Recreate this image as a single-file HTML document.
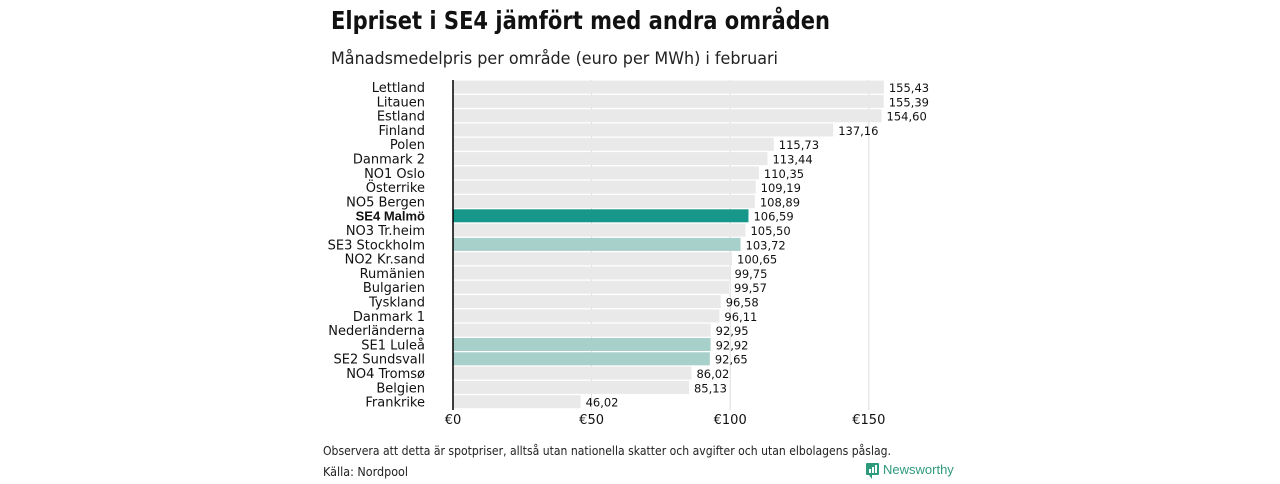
<!DOCTYPE html>
<html><head><meta charset="utf-8"><style>
body{margin:0;width:1280px;height:480px;background:#fff;font-family:"DejaVu Sans","Liberation Sans",sans-serif;overflow:hidden}
</style></head><body>
<svg width="1280" height="480">
<text x="331" y="29" font-size="25" font-weight="bold" fill="#111" textLength="499" lengthAdjust="spacingAndGlyphs">Elpriset i SE4 jämfört med andra områden</text>
<text x="331" y="64" font-size="17" fill="#222" textLength="447" lengthAdjust="spacingAndGlyphs">Månadsmedelpris per område (euro per MWh) i februari</text>
<g id="grid"></g><g id="bars"></g><g id="labels"></g>
<line x1="453" x2="453" y1="80" y2="410" stroke="#000" stroke-width="1.5"/>
<text x="323" y="455" font-size="12" fill="#222" textLength="568" lengthAdjust="spacingAndGlyphs">Observera att detta är spotpriser, alltså utan nationella skatter och avgifter och utan elbolagens påslag.</text>
<text x="323" y="476" font-size="12" fill="#222" textLength="85" lengthAdjust="spacingAndGlyphs">Källa: Nordpool</text>
<g>
<rect x="866" y="463" width="13" height="12" rx="1" fill="#2e9a7c"/>
<path d="M869 475 L872 479 L872 475Z" fill="#2e9a7c"/>
<rect x="869" y="469" width="2" height="4" fill="#fff"/><rect x="872" y="467" width="2" height="6" fill="#fff"/><rect x="875" y="465" width="2" height="8" fill="#fff"/>
<text x="883" y="474" font-size="13" fill="#2e9a7c" font-family="Liberation Sans,sans-serif">Newsworthy</text>
</g>
</svg>
<script>
const categories=["Lettland","Litauen","Estland","Finland","Polen","Danmark  2","NO1 Oslo","Österrike","NO5 Bergen","SE4 Malmö","NO3 Tr.heim","SE3  Stockholm","NO2 Kr.sand","Rumänien","Bulgarien","Tyskland","Danmark  1","Nederländerna","SE1  Luleå","SE2  Sundsvall","NO4 Tromsø","Belgien","Frankrike"];
const values=[155.43,155.39,154.60,137.16,115.73,113.44,110.35,109.19,108.89,106.59,105.50,103.72,100.65,99.75,99.57,96.58,96.11,92.95,92.92,92.65,86.02,85.13,46.02];
const ticks=[0,50,100,150];
const tickLabels=["€0","€50","€100","€150"];
const highlight={"SE4 Malmö":"#17978a","SE3  Stockholm":"#a6d0c9","SE1  Luleå":"#a6d0c9","SE2  Sundsvall":"#a6d0c9"};
const NS="http://www.w3.org/2000/svg";
const x=v=>453+v*2.772;
const y=i=>80+i*14.3;
function mk(t,a,p){const e=document.createElementNS(NS,t);for(const k in a)e.setAttribute(k,a[k]);p.appendChild(e);return e;}
const g=document.getElementById('grid'),b=document.getElementById('bars'),l=document.getElementById('labels');
ticks.forEach((t,i)=>{
 if(t>0){const ln=mk('line',{x1:x(t),x2:x(t),y1:80,y2:410,stroke:'#ddd','stroke-width':1},g);
 
 }
 const tx=mk('text',{x:x(t),y:424,'font-size':13,'text-anchor':'middle',fill:'#111'},l);tx.textContent=tickLabels[i];
 
 
});
categories.forEach((c,i)=>{
 const r=mk('rect',{x:453,y:y(i)+0.6,width:x(values[i])-453,height:13,fill:highlight[c]||'#e9e9e9'},b);
 
 
 const bold=c==="SE4 Malmö";
 const t=mk('text',{x:425,y:y(i)+12,'font-size':13,'text-anchor':'end',fill:'#111','font-weight':bold?'bold':'normal','font-family':bold?'Liberation Sans,sans-serif':'inherit'},l);
 t.textContent=c;
 
 
 const v=mk('text',{x:x(values[i])+5,y:y(i)+12,'font-size':11.5,fill:'#111'},l);
 v.textContent=values[i].toFixed(2).replace('.',',');
 
 
});
</script>
</body></html>
